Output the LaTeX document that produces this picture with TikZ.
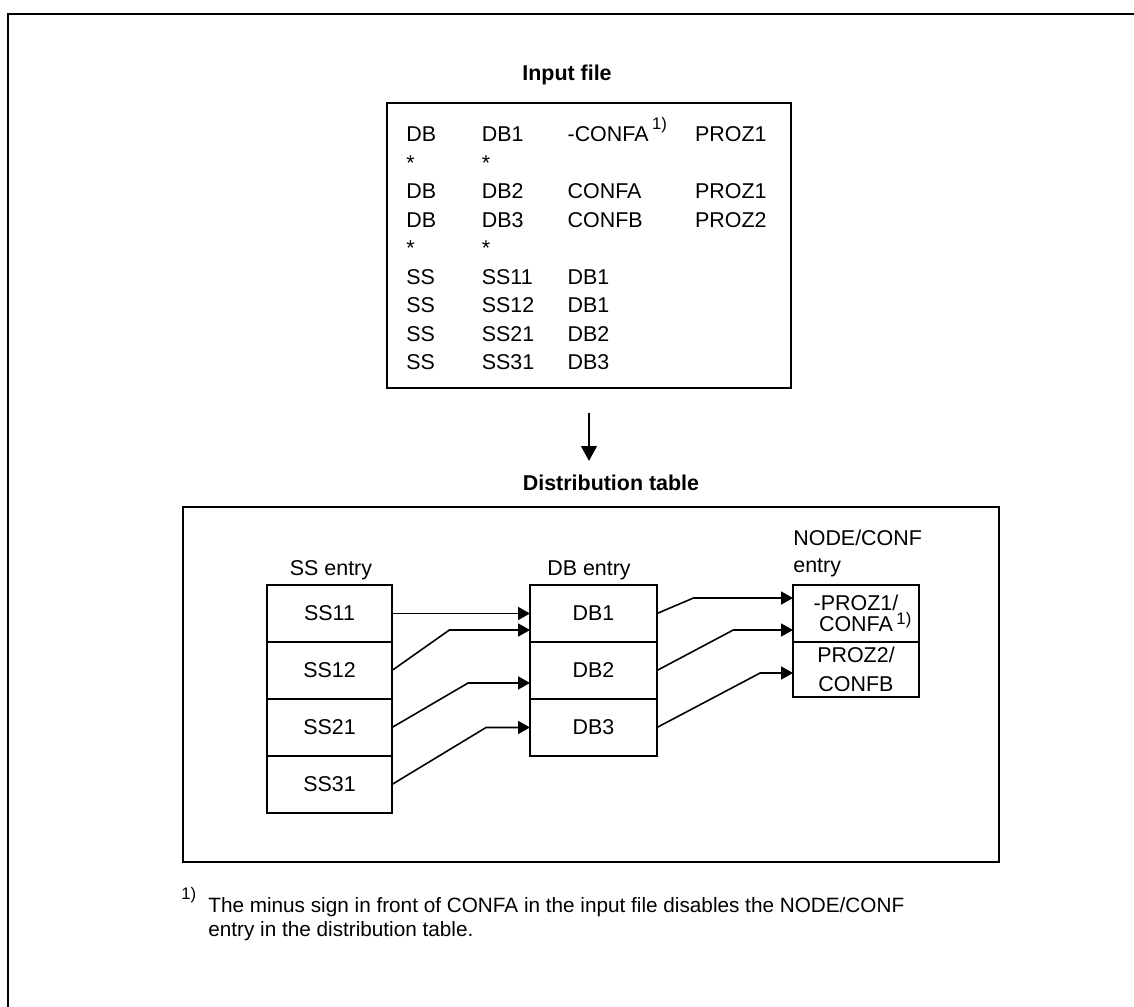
\documentclass[tikz,border=0pt]{standalone}
\usepackage{fontspec}
\setmainfont{Liberation Sans}
\usetikzlibrary{positioning, arrows.meta}
\newcommand{\fnone}[1][7pt]{\raisebox{#1}{\fontsize{9.5}{9.5}\selectfont 1)}}

\begin{document}
\begin{tikzpicture}[
  x=0.02cm, y=-0.02cm,
  > = {Triangle[length=6.8pt, width=7.4pt]},
  font=\fontsize{12.2}{16.2}\selectfont,
  hd/.style={font=\fontsize{12.2}{16.2}\selectfont\bfseries, anchor=base, inner sep=0pt},
  lbl/.style={anchor=base, inner sep=0pt},
  boxframe/.style={draw, line width=1pt},
  cell/.style={draw, line width=1pt, minimum height=1.14cm, inner sep=0pt,
               outer sep=0pt, align=center},
  sscell/.style={cell, minimum width=2.5cm},
  dbcell/.style={cell, minimum width=2.54cm},
  nccell/.style={cell, minimum width=2.52cm},
  arr/.style={->, line width=0.9pt},
  bigarr/.style={-{Triangle[length=8.5pt, width=9pt]}, line width=0.9pt}
]
  \useasboundingbox (0,0) rectangle (1134,1007);

  % outer frame, only top and left edge show
  \draw[line width=1.6pt] (1134,14) -- (8,14) -- (8,1007);

  % --- Input file ---
  \node[hd] (intitle) at (567,81) {Input file};
  \node[boxframe, minimum width=8.08cm, minimum height=5.7cm] (inbox) at (589,245.5) {};
  \node[anchor=base west, inner sep=0pt] (listing) at (406,142) {%
    \begin{tabular}[t]{@{}p{43pt}@{}p{48.8pt}@{}p{72.6pt}@{}l@{}}
      DB & DB1 & -CONFA\,\fnone & PROZ1\\
      {*} & {*} & & \\
      DB & DB2 & CONFA & PROZ1\\
      DB & DB3 & CONFB & PROZ2\\
      {*} & {*} & & \\
      SS & SS11 & DB1 & \\
      SS & SS12 & DB1 & \\
      SS & SS21 & DB2 & \\
      SS & SS31 & DB3 &
    \end{tabular}};

  % --- Distribution table ---
  \node[hd] (dtitle) at (611,490) {Distribution table};
  \draw[bigarr, shorten <=13.6pt, shorten >=7.5pt] (inbox.south) -- (inbox.south |- dtitle.north);
  \node[boxframe, minimum width=16.32cm, minimum height=7.1cm] (dbox) at (591,684.5) {};

  % SS entries
  \node[lbl] (sshead) at (331,575) {SS entry};
  \node[sscell] (ss11) at (329.5,613.5) {SS11};
  \node[sscell, below=0pt of ss11] (ss12) {SS12};
  \node[sscell, below=0pt of ss12] (ss21) {SS21};
  \node[sscell, below=0pt of ss21] (ss31) {SS31};

  % DB entries
  \node[lbl] (dbhead) at (589,575) {DB entry};
  \node[dbcell] (db1) at (593.5,613.5) {DB1};
  \node[dbcell, below=0pt of db1] (db2) {DB2};
  \node[dbcell, below=0pt of db2] (db3) {DB3};

  % NODE/CONF entries
  \node[anchor=north west, inner sep=0pt, align=left,
        font=\fontsize{12.2}{15.3}\selectfont] (nchead) at (793,529.5) {NODE/CONF\\entry};
  \node[nccell, font=\fontsize{12.2}{12}\selectfont] (nc1) at (856,613.5)
    {-PROZ1/\\CONFA\rlap{\,\fnone[4pt]}};
  \node[nccell, minimum height=1.1cm, below=0pt of nc1] (nc2) {PROZ2/\\CONFB};

  \draw[arr] (ss11) -- (db1);
  \draw[arr] (ss12.east) -- ([xshift=-45.9pt, yshift=-9.4pt]db1.west) -- ([yshift=-9.4pt]db1.west);
  \draw[arr] (ss21.east) -- ([xshift=-35.2pt, yshift=-7.1pt]db2.west) -- ([yshift=-7.1pt]db2.west);
  \draw[arr] (ss31.east) -- ([xshift=-25pt]db3.west) -- (db3.west);

  \draw[arr] (db1.east) -- ([xshift=-56.7pt, yshift=8.8pt]nc1.west) -- ([yshift=8.8pt]nc1.west);
  \draw[arr] (db2.east) -- ([xshift=-34pt, yshift=-9.4pt]nc1.west) -- ([yshift=-9.4pt]nc1.west);
  \draw[arr] (db3.east) -- ([xshift=-18.7pt, yshift=-2pt]nc2.west) -- ([yshift=-2pt]nc2.west);

  % --- footnote ---
  \node[anchor=base west, inner sep=0pt] (fnmark) at (181,912) {\fnone};
  \node[anchor=north west, inner sep=0pt, align=left,
        font=\fontsize{11.8}{13.6}\selectfont] (fntext) at (208,897)
    {The minus sign in front of CONFA in the input file disables the NODE/CONF\\
     entry in the distribution table.};
\end{tikzpicture}
\end{document}
